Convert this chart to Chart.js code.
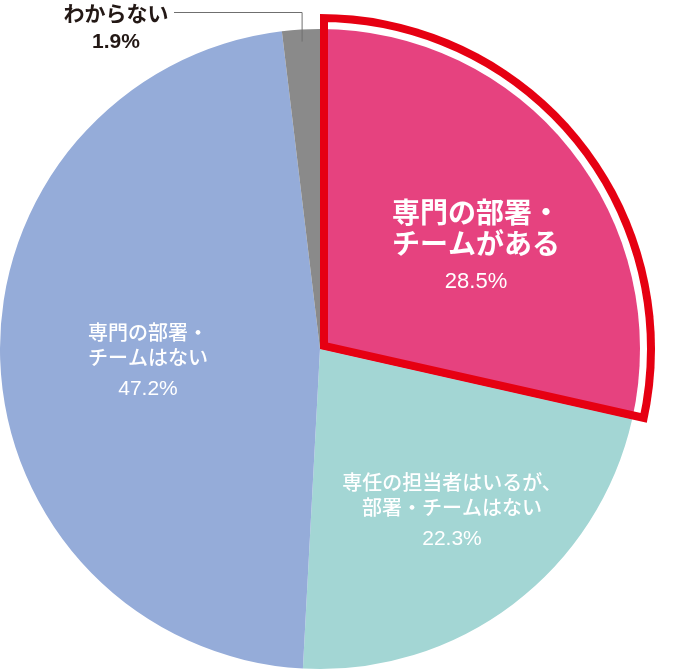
<!DOCTYPE html>
<html>
<head>
<meta charset="utf-8">
<script src="https://cdn.jsdelivr.net/npm/chart.js@4"></script>
<style>
  html, body { margin: 0; padding: 0; background: #fff; }
  #wrap { width: 690px; height: 672px; position: relative; }
</style>
</head>
<body>
<div id="wrap"><canvas id="myChart"></canvas></div>
<script>
// data, clockwise from 12 o'clock
const categories = ['専門の部署・チームがある', '専任の担当者はいるが、部署・チームはない', '専門の部署・チームはない', 'わからない'];
const shares = [28.5, 22.3, 47.2, 1.9];
const sliceLabels = [
    ['専門の部署・', 'チームがある'],
    ['専任の担当者はいるが、', '部署・チームはない'],
    ['専門の部署・', 'チームはない'],
    ['わからない']
];
const colors = ['#e6427f', '#a3d6d4', '#95acd9', '#8a8a8a'];

const jpFont = '"Noto Sans CJK JP", sans-serif';
const numFont = '"Liberation Sans", "Noto Sans CJK JP", sans-serif';

// label placement relative to pie centre (px)
const labelPos = [
    { dx: 156, dy: -137, big: true },
    { dx: 132, dy: 133 },
    { dx: -172, dy: -17 },
    null
];

// red frame around the first slice, offset outwards from the arc
const highlightPlugin = {
    id: 'highlight',
    afterDatasetsDraw(chart) {
        const arc = chart.getDatasetMeta(0).data[0];
        const ctx = chart.ctx;
        const r2 = arc.outerRadius + 15;
        ctx.save();
        ctx.beginPath();
        ctx.moveTo(arc.x, arc.y);
        ctx.arc(arc.x, arc.y, r2, arc.startAngle, arc.endAngle);
        ctx.closePath();
        ctx.clip();
        ctx.lineWidth = 16;
        ctx.strokeStyle = '#e60012';
        ctx.lineJoin = 'miter';
        ctx.stroke();
        ctx.restore();
    }
};

const labelPlugin = {
    id: 'sliceText',
    afterDraw(chart) {
        const meta = chart.getDatasetMeta(0);
        const cx = meta.data[0].x, cy = meta.data[0].y;
        const ctx = chart.ctx;
        ctx.save();
        ctx.textAlign = 'center';
        ctx.textBaseline = 'middle';
        ctx.fillStyle = '#fff';
        labelPos.forEach((p, i) => {
            if (!p) return;
            const x = cx + p.dx, y = cy + p.dy;
            const lineH = p.big ? 31 : 25;
            ctx.font = (p.big ? 'bold 28px ' : '500 20px ') + jpFont;
            sliceLabels[i].forEach((t, k) => ctx.fillText(t, x, y + k * lineH));
            ctx.font = (p.big ? '22px ' : '21px ') + numFont;
            ctx.fillText(shares[i].toFixed(1) + '%', x, y + lineH + (p.big ? 39 : 32));
        });

        // small slice: outside label with leader line
        const last = meta.data[3];
        const mid = (last.startAngle + last.endAngle) / 2;
        const ex = last.x + Math.cos(mid) * (last.outerRadius - 12);
        const ey = last.y + Math.sin(mid) * (last.outerRadius - 12);
        ctx.strokeStyle = '#6f6f6f';
        ctx.lineWidth = 1;
        ctx.beginPath();
        ctx.moveTo(174, 12.5);
        ctx.lineTo(ex + 0.5, 12.5);
        ctx.lineTo(ex + 0.5, ey);
        ctx.stroke();
        ctx.fillStyle = '#231815';
        ctx.font = 'bold 21px ' + jpFont;
        ctx.fillText(sliceLabels[3][0], 116, 13);
        ctx.font = 'bold 21px ' + numFont;
        ctx.fillText(shares[3].toFixed(1) + '%', 116, 42);
        ctx.restore();
    }
};

new Chart(document.getElementById('myChart'), {
    type: 'pie',
    data: {
        labels: categories,
        datasets: [{
            data: shares,
            backgroundColor: colors,
            borderWidth: 0
        }]
    },
    options: {
        responsive: true,
        maintainAspectRatio: false,
        animation: false,
        layout: { padding: { top: 29, bottom: 3, left: 0, right: 50 } },
        plugins: {
            legend: { display: false },
            tooltip: { enabled: false }
        }
    },
    plugins: [highlightPlugin, labelPlugin]
});
</script>
</body>
</html>
